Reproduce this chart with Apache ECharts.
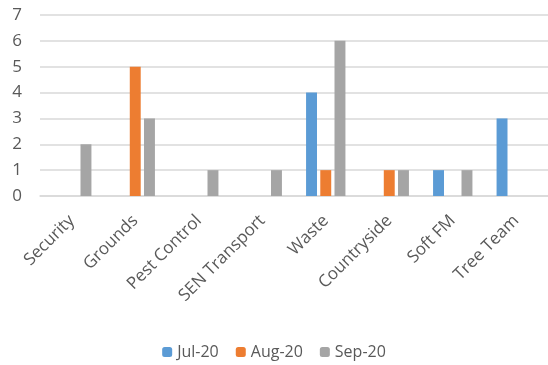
<!DOCTYPE html>
<html>
<head>
  <meta charset="utf-8">
  <script src="https://cdn.jsdelivr.net/npm/echarts@6/dist/echarts.min.js"></script>
  <style>
    html, body { margin: 0; padding: 0; background: #fff; }
    #chart { width: 548px; height: 365px; }
  </style>
</head>
<body>
  <div id="chart"></div>
  <script>
    var categories = ['Security', 'Grounds', 'Pest Control', 'SEN Transport', 'Waste', 'Countryside', 'Soft FM', 'Tree Team'];
    var jul20 = [0, 0, 0, 0, 4, 0, 1, 3];
    var aug20 = [0, 5, 0, 0, 1, 1, 0, 0];
    var sep20 = [2, 3, 1, 1, 6, 1, 1, 0];

    var chart = echarts.init(document.getElementById('chart'));
    var font = 'Open Sans, Liberation Sans, sans-serif';

    var option = {
      animation: false,
      color: ['#5B9BD5', '#ED7D31', '#A5A5A5'],
      legend: {
        bottom: 0,
        left: 'center',
        itemWidth: 10,
        itemHeight: 10,
        itemGap: 17,
        textStyle: { color: '#595959', fontSize: 16, fontFamily: font },
        data: ['Jul-20', 'Aug-20', 'Sep-20']
      },
      grid: { left: 40, right: 0, top: 15, bottom: 169, containLabel: false },
      xAxis: {
        type: 'category',
        data: categories,
        axisLine: { lineStyle: { color: '#D9D9D9', width: 1.5 } },
        axisTick: { show: false },
        axisLabel: {
          rotate: 45,
          interval: 0,
          margin: 22,
          color: '#595959',
          fontSize: 17,
          fontFamily: font
        }
      },
      yAxis: {
        type: 'value',
        min: 0,
        max: 7,
        interval: 1,
        axisLine: { show: false },
        axisTick: { show: false },
        axisLabel: { color: '#595959', fontSize: 17, fontFamily: font, margin: 18 },
        splitLine: { lineStyle: { color: '#D9D9D9', width: 1.5 } }
      },
      series: [
        { name: 'Jul-20', type: 'bar', data: jul20, barGap: '30%', barCategoryGap: '38%' },
        { name: 'Aug-20', type: 'bar', data: aug20, barGap: '30%', barCategoryGap: '38%' },
        { name: 'Sep-20', type: 'bar', data: sep20, barGap: '30%', barCategoryGap: '38%' }
      ]
    };

    chart.setOption(option);
  </script>
</body>
</html>
